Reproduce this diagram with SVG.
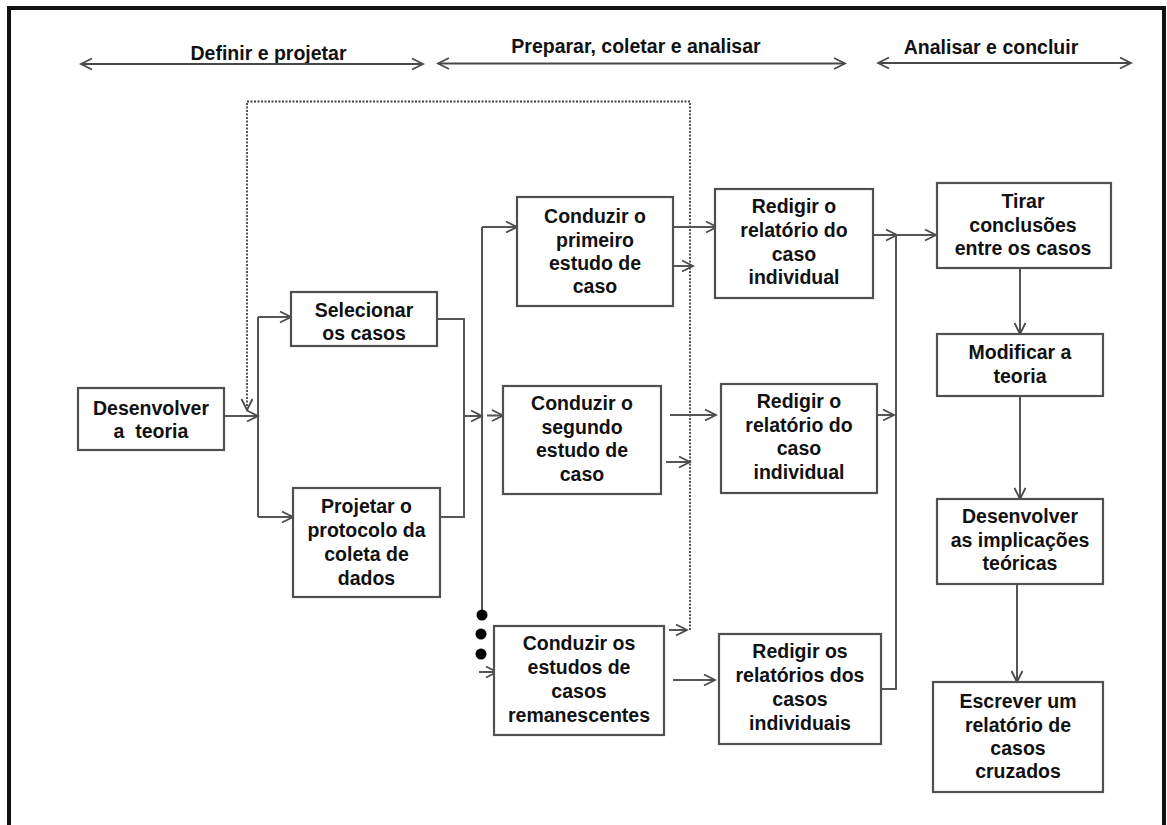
<svg xmlns="http://www.w3.org/2000/svg" width="1167" height="825" viewBox="0 0 1167 825">
<defs>
<marker id="ah" markerUnits="userSpaceOnUse" markerWidth="14" markerHeight="14" viewBox="0 0 14 14" refX="12" refY="7" orient="auto-start-reverse">
<path d="M1,1.5 L12,7 L1,12.5" fill="none" stroke="#4a4a4a" stroke-width="1.8"/>
</marker>
<style>
.box{fill:#fff;stroke:#505050;stroke-width:2.2}
.t{font-family:"Liberation Sans",Arial,sans-serif;font-weight:bold;font-size:19.5px;fill:#111;text-anchor:middle}
.c{fill:none;stroke:#555;stroke-width:2}
.a{marker-end:url(#ah)}
.d{fill:none;stroke:#444;stroke-width:1.8;stroke-dasharray:2 1.5}
.h{fill:none;stroke:#484848;stroke-width:2.2;marker-start:url(#ah);marker-end:url(#ah)}
</style>
</defs>
<rect width="1167" height="825" fill="#fff"/>
<path d="M9,830 V8 H1164 V830" fill="none" stroke="#111" stroke-width="4"/>

<g id="headers">
<text class="t" x="268.5" y="60">Definir e projetar</text>
<path class="h" d="M81,64 H423"/>
<text class="t" x="636" y="53">Preparar, coletar e analisar</text>
<path class="h" d="M438,63.5 H845"/>
<text class="t" x="991" y="54">Analisar e concluir</text>
<path class="h" d="M878,63 H1131"/>
</g>

<g id="connectors">
<path class="d a" d="M690,630 V101.5 H247 V410"/>
<path class="c a" d="M224,416 H258"/>
<path class="c" d="M258,317 V517"/>
<path class="c a" d="M258,317 H291"/>
<path class="c a" d="M258,517 H293"/>
<path class="c" d="M437,319 H464 V517 H440"/>
<path class="c a" d="M464,416 H482"/>
<path class="c" d="M482,227 V612"/>
<path class="c a" d="M482,227 H517"/>
<path class="c a" d="M487,415.5 H503"/>
<circle cx="482" cy="615" r="5.5" fill="#000"/>
<circle cx="481" cy="634" r="5.5" fill="#000"/>
<circle cx="481" cy="654" r="5.5" fill="#000"/>
<path class="c a" d="M479,672 H497"/>
<path class="c a" d="M673,227 H717"/>
<path class="c a" d="M670,266 H693"/>
<path class="c a" d="M670,415 H716"/>
<path class="c a" d="M666,462 H690"/>
<path class="c a" d="M669,630 H687"/>
<path class="c a" d="M673,680 H715"/>
<path class="c a" d="M873,235 H897"/>
<path class="c a" d="M896,235 H936"/>
<path class="c" d="M896,235 V689 H881"/>
<path class="c a" d="M877,415 H894"/>
<path class="c a" d="M1020,268 V334"/>
<path class="c a" d="M1020,396 V499"/>
<path class="c a" d="M1017,584 V682"/>
</g>

<g id="n-desenvolver">
<rect class="box" x="78" y="388" width="146" height="62"/>
<text class="t" x="151" y="415">Desenvolver</text>
<text class="t" x="151" y="438" style="white-space:pre">a  teoria</text>
</g>
<g id="n-selecionar">
<rect class="box" x="291" y="292" width="146" height="54"/>
<text class="t" x="364" y="317">Selecionar</text>
<text class="t" x="364" y="340">os casos</text>
</g>
<g id="n-projetar">
<rect class="box" x="293" y="488" width="147" height="109"/>
<text class="t" x="366.5" y="513">Projetar o</text>
<text class="t" x="366.5" y="537">protocolo da</text>
<text class="t" x="366.5" y="561">coleta de</text>
<text class="t" x="366.5" y="585">dados</text>
</g>
<g id="n-conduzir1">
<rect class="box" x="517" y="197" width="156" height="109"/>
<text class="t" x="595" y="223">Conduzir o</text>
<text class="t" x="595" y="247">primeiro</text>
<text class="t" x="595" y="270">estudo de</text>
<text class="t" x="595" y="293">caso</text>
</g>
<g id="n-conduzir2">
<rect class="box" x="503" y="386" width="158" height="108"/>
<text class="t" x="582" y="410">Conduzir o</text>
<text class="t" x="582" y="434">segundo</text>
<text class="t" x="582" y="457">estudo de</text>
<text class="t" x="582" y="481">caso</text>
</g>
<g id="n-conduzir3">
<rect class="box" x="494" y="626" width="170" height="109"/>
<text class="t" x="579" y="650">Conduzir os</text>
<text class="t" x="579" y="674">estudos de</text>
<text class="t" x="579" y="698">casos</text>
<text class="t" x="579" y="722">remanescentes</text>
</g>
<g id="n-redigir1">
<rect class="box" x="715" y="189" width="158" height="109"/>
<text class="t" x="794" y="213">Redigir o</text>
<text class="t" x="794" y="237">relatório do</text>
<text class="t" x="794" y="261">caso</text>
<text class="t" x="794" y="284">individual</text>
</g>
<g id="n-redigir2">
<rect class="box" x="721" y="384" width="156" height="109"/>
<text class="t" x="799" y="408">Redigir o</text>
<text class="t" x="799" y="432">relatório do</text>
<text class="t" x="799" y="455">caso</text>
<text class="t" x="799" y="479">individual</text>
</g>
<g id="n-redigir3">
<rect class="box" x="719" y="634" width="162" height="110"/>
<text class="t" x="800" y="658">Redigir os</text>
<text class="t" x="800" y="682">relatórios dos</text>
<text class="t" x="800" y="706">casos</text>
<text class="t" x="800" y="730">individuais</text>
</g>
<g id="n-tirar">
<rect class="box" x="937" y="183" width="174" height="85"/>
<text class="t" x="1023" y="208">Tirar</text>
<text class="t" x="1023" y="232">conclusões</text>
<text class="t" x="1023" y="255">entre os casos</text>
</g>
<g id="n-modificar">
<rect class="box" x="937" y="334" width="166" height="62"/>
<text class="t" x="1020" y="359">Modificar a</text>
<text class="t" x="1020" y="383">teoria</text>
</g>
<g id="n-implicacoes">
<rect class="box" x="937" y="499" width="166" height="85"/>
<text class="t" x="1020" y="523">Desenvolver</text>
<text class="t" x="1020" y="547">as implicações</text>
<text class="t" x="1020" y="570">teóricas</text>
</g>
<g id="n-escrever">
<rect class="box" x="933" y="682" width="170" height="110"/>
<text class="t" x="1018" y="708">Escrever um</text>
<text class="t" x="1018" y="732">relatório de</text>
<text class="t" x="1018" y="755">casos</text>
<text class="t" x="1018" y="778">cruzados</text>
</g>
</svg>
